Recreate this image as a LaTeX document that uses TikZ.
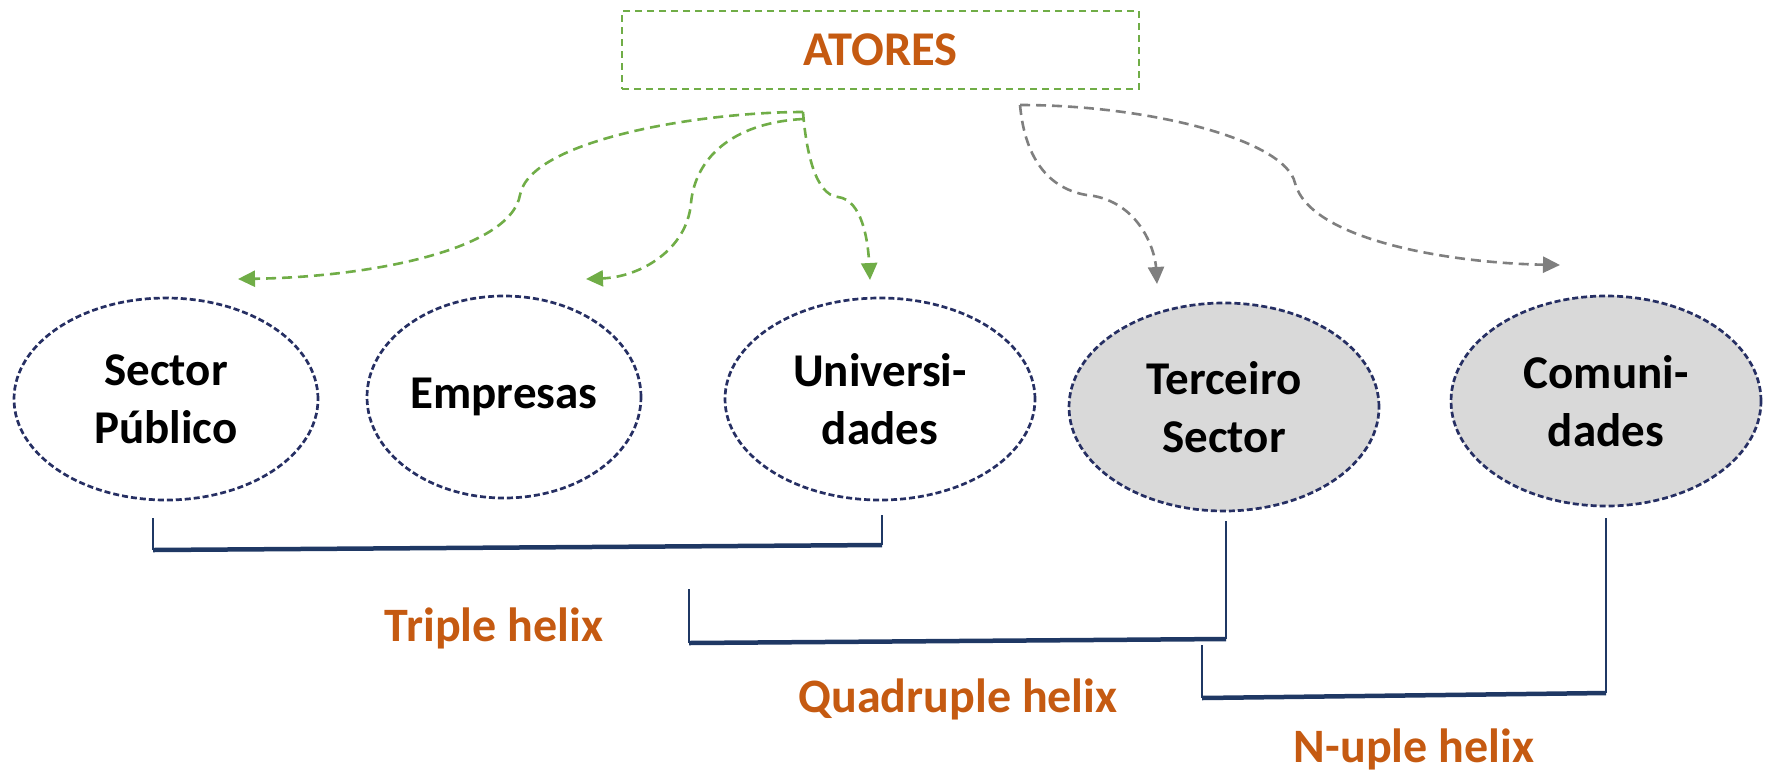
\documentclass[tikz,border=0pt]{standalone}
\usepackage{fontspec}
\setmainfont{Carlito}
\usetikzlibrary{shapes.geometric,arrows.meta}
\definecolor{orng}{HTML}{C55A11}
\definecolor{grn}{HTML}{70AD47}
\definecolor{gry}{HTML}{7F7F7F}
\definecolor{navy}{HTML}{1F3864}
\definecolor{ellb}{HTML}{262F63}
\definecolor{lgray}{HTML}{D9D9D9}
\tikzset{
  ell/.style={ellipse, draw=ellb, line width=2.7pt, dash pattern=on 6pt off 3pt, inner sep=0pt,
    align=center, font=\fontsize{47}{58}\selectfont\bfseries, text=black},
  ellg/.style={ell, fill=lgray},
  lbl/.style={font=\fontsize{48}{56}\selectfont\bfseries, text=orng, inner sep=0pt},
  garrow/.style={draw=grn, line width=2.6pt, dash pattern=on 10pt off 6pt,
    -{Triangle[length=17pt,width=16pt,fill=grn]}},
  yarrow/.style={draw=gry, line width=2.6pt, dash pattern=on 10pt off 6pt,
    -{Triangle[length=17pt,width=16pt,fill=gry]}},
  brv/.style={draw=navy, line width=2.5pt},
  brh/.style={draw=navy, line width=4.5pt},
}
\begin{document}
\begin{tikzpicture}[x=1pt,y=-1pt]
\useasboundingbox (0,0) rectangle (1771,772);
% title box
\node[draw=grn, line width=2pt, dash pattern=on 7pt off 5pt, minimum width=517pt, minimum height=78pt,
  inner sep=0pt, font=\fontsize{48.5}{56}\selectfont\bfseries, text=orng] (atores) at (880.5,50) {ATORES};
% ellipses
\node[ell, minimum width=304pt, minimum height=202pt] (sp) at (166,399) {Sector\\Público};
\node[ell, minimum width=274pt, minimum height=202pt] (emp) at (504,397) {Empresas};
\node[ell, minimum width=310pt, minimum height=202pt] (uni) at (880,399) {Universi-\\dades};
\node[ellg, minimum width=310pt, minimum height=208pt] (ter) at (1224,407) {Terceiro\\Sector};
\node[ellg, minimum width=310pt, minimum height=210pt] (com) at (1606,401) {Comuni-\\dades};
% arrow anchors
\coordinate (gs1) at (803,112);
\coordinate (gs2) at (803,119);
\coordinate (ys) at (1020,105);
\coordinate (e1) at (238,279);
\coordinate (e2) at (586,279);
\coordinate (e3) at (870,280);
\coordinate (e4) at (1157,284);
\coordinate (e5) at (1560,265);
% green arrows
\draw[garrow] (gs1) .. controls (700,112) and (530,140) .. (520,195)
  .. controls (510,250) and (370,277) .. (e1);
\draw[garrow] (gs2) .. controls (730,123) and (695,160) .. (691,203)
  .. controls (687,250) and (640,277) .. (e2);
\draw[garrow] (gs1) .. controls (806,150) and (815,195) .. (838,197)
  .. controls (862,200) and (868,240) .. (e3);
% gray arrows
\draw[yarrow] (ys) .. controls (1025,160) and (1050,192) .. (1094,196)
  .. controls (1140,205) and (1155,250) .. (e4);
\draw[yarrow] (ys) .. controls (1150,105) and (1285,140) .. (1295,183)
  .. controls (1310,240) and (1450,263) .. (e5);
% brackets
\coordinate (t1) at (153,518); \coordinate (t2) at (153,550);
\coordinate (t3) at (882,545); \coordinate (t4) at (882,515);
\draw[brv] (t1) -- (t2);
\draw[brv] (t4) -- (t3);
\draw[brh] (t2) -- (t3);
\coordinate (q1) at (689,589); \coordinate (q2) at (689,643);
\coordinate (q3) at (1226,639); \coordinate (q4) at (1226,521);
\draw[brv] (q1) -- (q2);
\draw[brv] (q4) -- (q3);
\draw[brh] (q2) -- (q3);
\coordinate (n1) at (1202,645); \coordinate (n2) at (1202,698);
\coordinate (n3) at (1606,693); \coordinate (n4) at (1606,518);
\draw[brv] (n1) -- (n2);
\draw[brv] (n4) -- (n3);
\draw[brh] (n2) -- (n3);
% labels
\node[lbl] (tri) at (494,628) {Triple helix};
\node[lbl] (quad) at (958,699) {Quadruple helix};
\node[lbl] (nup) at (1414,749) {N-uple helix};
\end{tikzpicture}
\end{document}
